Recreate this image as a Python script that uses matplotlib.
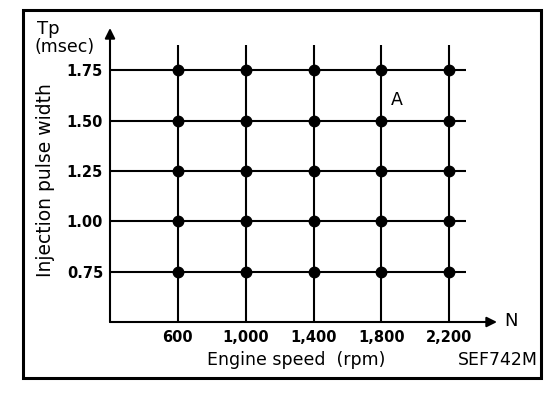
import matplotlib
matplotlib.use("Agg")
import matplotlib.pyplot as plt
from matplotlib.patches import Rectangle

# engine speed (rpm) and injection pulse width (msec) grid
speeds = [600, 1000, 1400, 1800, 2200]
speed_labels = ["600", "1,000", "1,400", "1,800", "2,200"]
pulse = [0.75, 1.00, 1.25, 1.50, 1.75]
pulse_labels = ["0.75", "1.00", "1.25", "1.50", "1.75"]

plt.rcParams['font.family'] = ['DejaVu Sans']

W, H = 560, 396
fig = plt.figure(figsize=(W / 100, H / 100), dpi=100)

# axes box in pixel coordinates of the reference
x0, x1 = 110, 497
y_top, y_bot = 28, 322
ax = fig.add_axes([x0 / W, 1 - y_bot / H, (x1 - x0) / W, (y_bot - y_top) / H])
xmin, xmax = 200, 2482
ymin, ymax = 0.5, 1.96
ax.set_xlim(xmin, xmax)
ax.set_ylim(ymin, ymax)
for s in ax.spines.values():
    s.set_visible(False)

# grid lines
for p in pulse:
    ax.plot([xmin, 2300], [p, p], color='black', lw=1.5, solid_capstyle='butt')
for n in speeds:
    ax.plot([n, n], [ymin, 1.875], color='black', lw=1.5, solid_capstyle='butt')

# points at every grid crossing
for n in speeds:
    ax.plot([n] * len(pulse), pulse, 'o', color='black', ms=7.5)

# axes with arrows
arrow = dict(arrowstyle="-|>", color='black', lw=1.5,
             mutation_scale=15, shrinkA=0, shrinkB=0)
ax.annotate("", xy=(xmax, ymin), xytext=(xmin, ymin),
            arrowprops=arrow, annotation_clip=False)
ax.annotate("", xy=(xmin, ymax), xytext=(xmin, ymin),
            arrowprops=arrow, annotation_clip=False)

ax.set_xticks(speeds)
ax.set_xticklabels(speed_labels, fontsize=10.5, fontweight='bold')
ax.set_yticks(pulse)
ax.set_yticklabels(pulse_labels, fontsize=10.5, fontweight='bold')
ax.tick_params(axis='x', length=0, pad=6)
ax.tick_params(axis='y', length=0, pad=5)

ax.text(1890, 1.60, "A", fontsize=12.5, ha='center', va='center')

# figure texts
fig.text(37 / W, 1 - 29 / H, "Tp", fontsize=13, ha='left', va='center')
fig.text(35 / W, 1 - 47 / H, "(msec)", fontsize=12.5, ha='left', va='center')
fig.text(504 / W, 1 - 321 / H, "N", fontsize=13, ha='left', va='center')
fig.text(46 / W, 1 - 180 / H, "Injection pulse width", fontsize=13.5,
         rotation=90, ha='center', va='center')
fig.text(296 / W, 1 - 365 / H, "Engine speed  (rpm)", fontsize=12.5,
         ha='center', va='baseline')
fig.text(538 / W, 1 - 365 / H, "SEF742M", fontsize=12.5, ha='right',
         va='baseline')

# outer border
fig.patches.append(Rectangle((23 / W, 1 - 378 / H), (541 - 23) / W, (378 - 10) / H,
                             transform=fig.transFigure, fill=False,
                             edgecolor='black', lw=2.2))

fig.savefig("out.png", dpi=100)
